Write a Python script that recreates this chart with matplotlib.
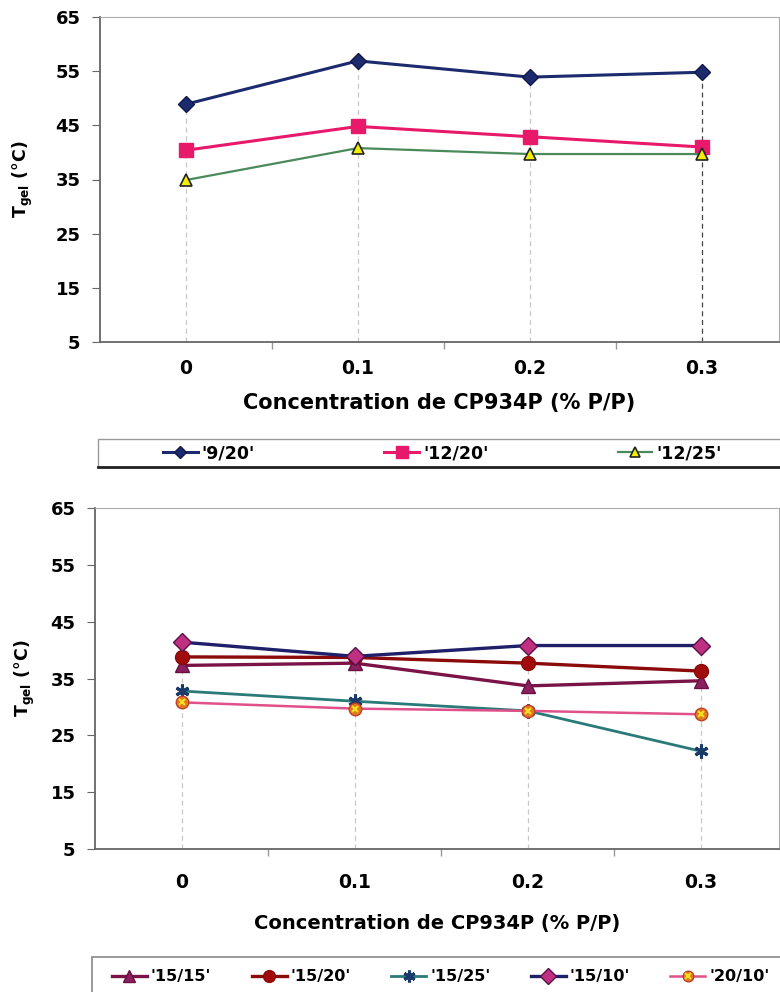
import numpy as np
import matplotlib
matplotlib.use("Agg")
import matplotlib.pyplot as plt
from matplotlib.patches import Rectangle
from matplotlib.legend_handler import HandlerTuple

plt.rcParams['font.family'] = ['DejaVu Sans']
plt.rcParams['font.weight'] = 'bold'
plt.rcParams['mathtext.default'] = 'bf'

# données
conc = [0, 0.1, 0.2, 0.3]
conc_labels = ['0', '0.1', '0.2', '0.3']
yticks = [5, 15, 25, 35, 45, 55, 65]

top_names = ["'9/20'", "'12/20'", "'12/25'"]
t_9_20 = [48.9, 56.9, 53.9, 54.8]
t_12_20 = [40.4, 44.8, 42.9, 41.0]
t_12_25 = [34.9, 40.8, 39.7, 39.7]

bot_names = ["'15/15'", "'15/20'", "'15/25'", "'15/10'", "'20/10'"]
t_15_15 = [37.3, 37.7, 33.7, 34.6]
t_15_20 = [38.8, 38.7, 37.7, 36.3]
t_15_25 = [32.8, 31.0, 29.3, 22.2]
t_15_10 = [41.4, 38.9, 40.8, 40.8]
t_20_10 = [30.8, 29.7, 29.3, 28.7]

W, H = 780, 992


def style_axes(ax, drop_top, drop_colors, tpad, lpad, xlsize, ylx):
    ax.set_xlim(-0.05, 0.345)
    ax.set_ylim(5, 65)
    ax.set_yticks(yticks)
    ax.set_xticks(conc)
    ax.set_xticklabels(conc_labels, fontsize=13.5, fontweight='bold')
    ax.set_xticks([0.05, 0.15, 0.25], minor=True)
    ax.tick_params(axis='x', which='major', length=0, pad=tpad)
    ax.tick_params(axis='x', which='minor', length=5, width=1, color='#999999', direction='out')
    ax.tick_params(axis='y', labelsize=13, length=6, color='#666666', pad=8)
    for s in ['top', 'right']:
        ax.spines[s].set_color('#aaaaaa')
    for s in ['left', 'bottom']:
        ax.spines[s].set_color('#666666')
        ax.spines[s].set_linewidth(1.3)
    for x, ytop, c in zip(conc, drop_top, drop_colors):
        ax.vlines(x, 5, ytop, colors=c, linestyles=(0, (4, 3)), linewidth=0.9, zorder=1)
    ax.set_xlabel('Concentration de CP934P (% P/P)', fontsize=xlsize, fontweight='bold', labelpad=lpad)
    ax.set_ylabel(r'T$_{gel}$ (°C)', fontsize=12.5, fontweight='bold')
    ax.yaxis.set_label_coords(ylx, 0.5)


fig = plt.figure(figsize=(W / 100, H / 100), dpi=100)

# --- graphique du haut ---
ax1 = fig.add_axes([100 / W, 1 - 342 / H, 679 / W, 325 / H])
top_max = np.max([t_9_20, t_12_20, t_12_25], axis=0)
style_axes(ax1, top_max, ['#c8c8c8', '#c8c8c8', '#c8c8c8', '#444444'], 12, 11, 15, -0.0957)
l1, = ax1.plot(conc, t_9_20, color='#1c2a6e', lw=2.2, marker='D', ms=8,
               mfc='#1c2a6e', mec='#10184a', zorder=3)
l2, = ax1.plot(conc, t_12_20, color='#e8186a', lw=2.2, marker='s', ms=10,
               mfc='#e8186a', mec='#e8186a', zorder=3)
l3, = ax1.plot(conc, t_12_25, color='#4a8a5a', lw=1.6, marker='^', ms=9,
               mfc='#f0f000', mec='#222222', mew=1.2, zorder=3)
fig.add_artist(Rectangle((98 / W, 1 - 467 / H), 720 / W, 28 / H, transform=fig.transFigure,
                         fill=False, edgecolor='#999999', lw=1))
fig.add_artist(plt.Line2D([98 / W, 1], [1 - 467 / H, 1 - 467 / H], transform=fig.transFigure,
                          color='#222222', lw=2))
fig.legend([l1, l2, l3], top_names, loc='center left', ncol=3,
           bbox_to_anchor=(163 / W, 1 - 453 / H), frameon=False, fontsize=12.5,
           handlelength=2.0, handletextpad=0.23, columnspacing=7.45, markerscale=0.8,
           borderpad=0, borderaxespad=0)

# --- graphique du bas ---
ax2 = fig.add_axes([95 / W, 1 - 849 / H, 684 / W, 341 / H])
bot_max = np.max([t_15_15, t_15_20, t_15_25, t_15_10, t_20_10], axis=0)
style_axes(ax2, bot_max, ['#c8c8c8'] * 4, 17, 16, 14, -0.0848)
b1, = ax2.plot(conc, t_15_15, color='#7a1446', lw=2.4, marker='^', ms=10,
               mfc='#8a2060', mec='#6a1040', zorder=3)
b2, = ax2.plot(conc, t_15_20, color='#8b0a0a', lw=2.4, marker='o', ms=10,
               mfc='#a00c0c', mec='#8b0a0a', zorder=3)
b3, = ax2.plot(conc, t_15_25, color='#2a7a7a', lw=2.0, marker=(6, 2, 0), ms=10,
               mec='#1a3a6a', mew=2.2, zorder=3)
b4, = ax2.plot(conc, t_15_10, color='#1f1f6a', lw=2.4, marker='D', ms=9,
               mfc='#c03080', mec='#5a1050', zorder=4)
b5, = ax2.plot(conc, t_20_10, color='#e0508a', lw=1.8, marker='o', ms=9,
               mfc='#e07a20', mec='#c0402a', zorder=3)
b5x, = ax2.plot(conc, t_20_10, ls='none', marker='x', ms=5, mec='#f8e020', mew=1.5, zorder=4)
fig.add_artist(Rectangle((92 / W, 1 - 1000 / H), 720 / W, 43 / H, transform=fig.transFigure,
                         fill=False, edgecolor='#888888', lw=1.2))
fig.legend([b1, b2, b3, b4, (b5, b5x)], bot_names, loc='center left', ncol=5,
           bbox_to_anchor=(112 / W, 1 - 977 / H), frameon=False, fontsize=11.6,
           handlelength=2.17, handletextpad=0.25, columnspacing=2.5, markerscale=0.85,
           borderpad=0, borderaxespad=0,
           handler_map={tuple: HandlerTuple(ndivide=1, pad=0)})

fig.savefig('out.png', dpi=100)
